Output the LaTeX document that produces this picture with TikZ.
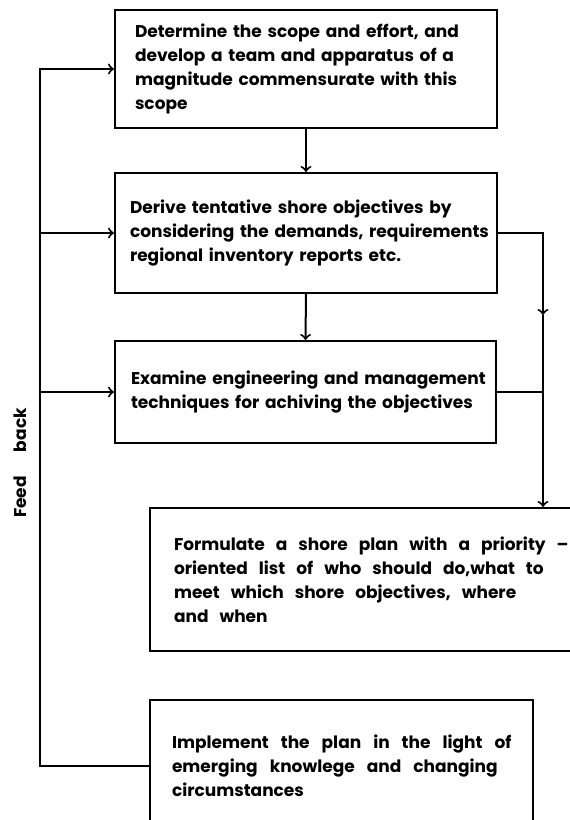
\documentclass[tikz,border=0pt]{standalone}
\usepackage{fontspec}
\setmainfont{Poppins}
\usetikzlibrary{calc,arrows,shapes}

\begin{document}
\begin{tikzpicture}[x=0.5pt,y=-0.5pt,line width=1pt,>=to,
    stage/.style={draw,rectangle,align=left,anchor=north west,inner ysep=0pt,
      font=\fontsize{8.5}{12}\selectfont\bfseries},
    wide/.style={execute at begin node={\spaceskip=#1\relax}}]
    \useasboundingbox (0,0) rectangle (569,820);
    \node [stage,inner xsep=10pt,text width=171pt,minimum height=59pt] (1) at (114,9) {
      \mbox{Determine the scope and effort, and}\\
      \mbox{develop a team and apparatus of a}\\
      \mbox{magnitude commensurate with this}\\
      scope
    };
    \node [stage,inner xsep=7.5pt,text width=176pt,minimum height=60pt] (2) at (114,172) {
      \mbox{Derive tentative shore objectives by}\\
      \mbox{considering the demands, requirements}\\
      \mbox{regional inventory reports etc.}
    };
    \node [stage,inner xsep=8pt,text width=174.5pt,minimum height=51pt] (3) at (114,340) {
      \mbox{Examine engineering and management}\\
      \mbox{techniques for achiving the objectives}
    };
    \node [stage,wide=5.5pt,inner xsep=12pt,text width=196.5pt,minimum height=71.5pt] (4) at (149,507) {
      \mbox{Formulate a shore plan with a priority --}\\
      \mbox{oriented list of who should do,what to}\\
      \mbox{meet which shore objectives, where}\\
      and when
    };
    \node [stage,wide=6pt,inner xsep=11pt,text width=169.5pt,minimum height=65.5pt] (5) at (149,699) {
      \mbox{Implement the plan in the light of}\\
      \mbox{emerging knowlege and changing}\\
      circumstances
    };
    \node [rotate=90,font=\fontsize{8.5}{12}\selectfont\bfseries] (fb) at (20,463) {Feed\hspace{12pt}back};

    % main flow
    \coordinate (r) at (543,0);
    \coordinate (m) at (543,315);
    \coordinate (f) at (40,0);
    \draw [->] (1.south) -- (2.north);
    \draw [->] (2.south) -- (3.north);
    \draw [->] (2.east) -| (m);
    \draw [->] (m) -- (4.north -| r);
    \draw (3.east) -- (3.east -| r);

    % feed back
    \draw [->] (5.west) -| (f |- 1.west) -- (1.west);
    \draw [->] (f |- 2.west) -- (2.west);
    \draw [->] (f |- 3.west) -- (3.west);
  \end{tikzpicture}
\end{document}
